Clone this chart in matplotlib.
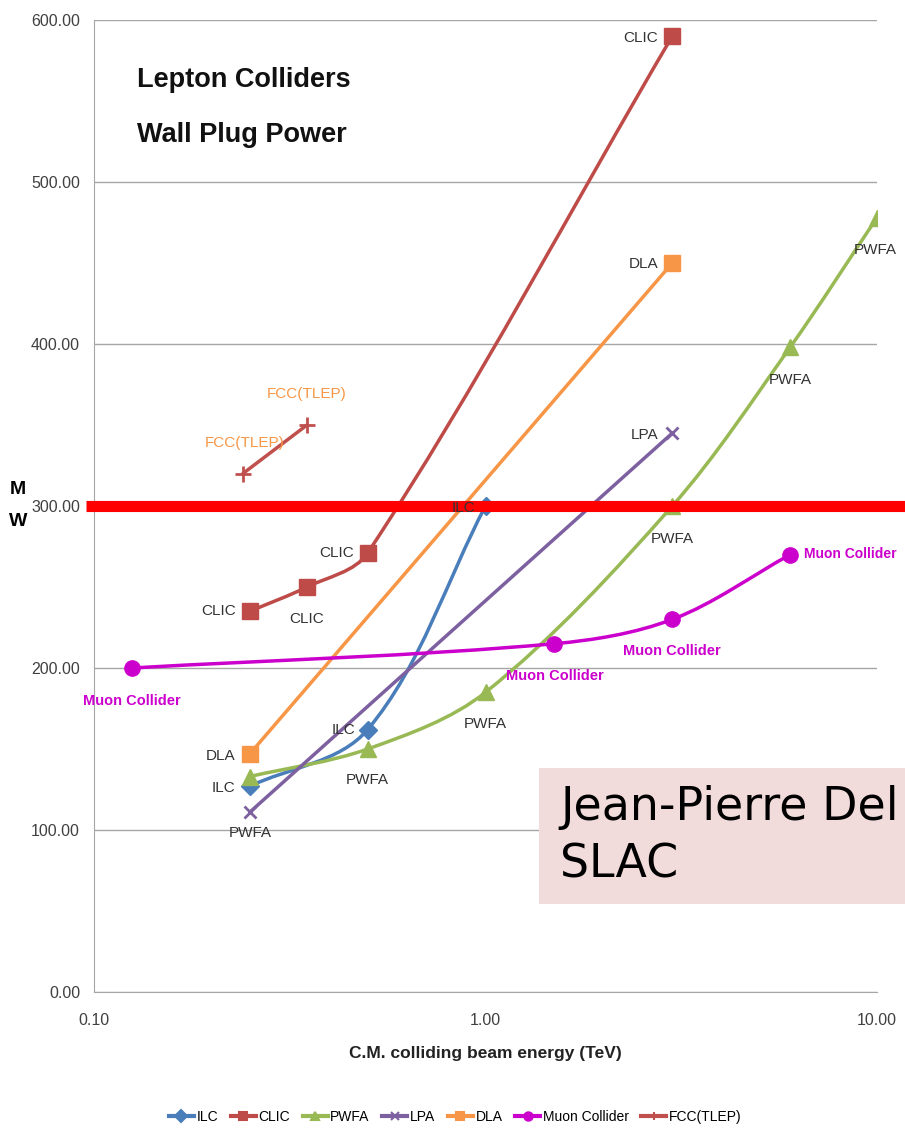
import numpy as np
import matplotlib
matplotlib.use("Agg")
import matplotlib.pyplot as plt
from matplotlib.path import Path
from matplotlib.patches import PathPatch, Rectangle
from matplotlib import font_manager as fm

names = {f.name for f in fm.fontManager.ttflist}
base = 'Liberation Sans Narrow' if 'Liberation Sans Narrow' in names else 'Liberation Sans'
plt.rcParams['font.family'] = [base, 'DejaVu Sans']

# ---- data ----
ilc_x = [0.25, 0.5, 1.0]
ilc_y = [127, 162, 300]
clic_x = [0.25, 0.35, 0.5, 3.0]
clic_y = [235, 250, 271, 590]
pwfa_x = [0.25, 0.5, 1.0, 3.0, 6.0, 10.0]
pwfa_y = [133, 150, 185, 300, 398, 478]
lpa_x = [0.25, 3.0]
lpa_y = [111, 345]
dla_x = [0.25, 3.0]
dla_y = [147, 450]
muon_x = [0.125, 1.5, 3.0, 6.0]
muon_y = [200, 215, 230, 270]
fcc_x = [0.24, 0.35]
fcc_y = [320, 350]

y_ticks = [0, 100, 200, 300, 400, 500, 600]
x_ticks = [0.1, 1.0, 10.0]

C_ILC = '#4a7ebb'
C_CLIC = '#be4b48'
C_PWFA = '#98b954'
C_LPA = '#7d60a0'
C_DLA = '#f79646'
C_MUON = '#cc00cc'
C_FCC = '#c0504d'

fig = plt.figure(figsize=(9.05, 11.39), dpi=100)
ax = fig.add_axes([94/905, 1-992/1139, (877-94)/905, (992-20)/1139])
ax.set_xscale('log')
ax.set_xlim(0.1, 10)
ax.set_ylim(0, 600)

SX, SY = 391.0, 1.62  # approx display scale (px per decade, px per MW)


def smooth(ax, xs, ys, color, lw):
    # Excel-like smoothed line drawn as cubic Bezier segments through the points
    P = np.column_stack([np.log10(np.asarray(xs, float)) * SX, np.asarray(ys, float) * SY])
    n = len(P)
    if n < 3:
        ax.plot(xs, ys, color=color, lw=lw, solid_capstyle='round', zorder=3)
        return
    tang = []
    for i in range(n):
        a = P[max(i-1, 0)]; b = P[min(i+1, n-1)]
        d = b - a
        tang.append(d / np.hypot(*d))
    verts = [(xs[0], ys[0])]
    codes = [Path.MOVETO]
    k = 0.33
    for i in range(n-1):
        L = np.hypot(*(P[i+1] - P[i]))
        c1 = P[i] + tang[i] * L * k
        c2 = P[i+1] - tang[i+1] * L * k
        for c in (c1, c2, P[i+1]):
            verts.append((10**(c[0]/SX), c[1]/SY))
        codes += [Path.CURVE4]*3
    ax.add_patch(PathPatch(Path(verts, codes), fc='none', ec=color, lw=lw,
                           capstyle='round', zorder=3))

series = [
    ('ILC', ilc_x, ilc_y, C_ILC, 'D', 9),
    ('CLIC', clic_x, clic_y, C_CLIC, 's', 11),
    ('PWFA', pwfa_x, pwfa_y, C_PWFA, '^', 11),
    ('LPA', lpa_x, lpa_y, C_LPA, 'x', 9),
    ('DLA', dla_x, dla_y, C_DLA, 's', 11),
    ('Muon Collider', muon_x, muon_y, C_MUON, 'o', 11),
    ('FCC(TLEP)', fcc_x, fcc_y, C_FCC, '+', 11),
]
handles = []
for name, xs, ys, c, m, ms in series:
    smooth(ax, xs, ys, c, 2.5)
    ax.plot(xs, ys, ls='none', marker=m, color=c, ms=ms, mew=2 if m in 'x+' else 1, zorder=4)
    h, = ax.plot([], [], color=c, lw=3, marker=m, ms=6, mew=1.5)
    handles.append(h)

# grid & axes
ax.set_yticks(y_ticks)
ax.yaxis.grid(True, color='#a6a6a6', lw=1)
ax.set_axisbelow(True)
for s in ['top', 'right']:
    ax.spines[s].set_visible(False)
ax.spines['left'].set_color('#a6a6a6')
ax.spines['bottom'].set_color('#a6a6a6')
ax.set_yticklabels(['%.2f' % v for v in y_ticks], fontsize=11.5, color='#404040')
ax.set_xticks(x_ticks)
ax.set_xticklabels(['%.2f' % v for v in x_ticks], fontsize=11.5, color='#404040')
ax.xaxis.set_minor_locator(matplotlib.ticker.NullLocator())
ax.tick_params(axis='y', length=0, pad=10)
ax.tick_params(axis='x', length=0, pad=15)
ax.set_xlabel('C.M. colliding beam energy (TeV)', fontsize=12.5, fontweight='bold',
              labelpad=13, color='#222222')

fig.text(18/905, 1-490/1139, 'M', fontsize=14, fontweight='bold', ha='center', va='center')
fig.text(18/905, 1-522/1139, 'W', fontsize=14, fontweight='bold', ha='center', va='center')

# title
fig.text(137/905, 1-80/1139, 'Lepton Colliders', fontsize=19.5, fontweight='bold',
         va='center', color='#111111')
fig.text(137/905, 1-135/1139, 'Wall Plug Power', fontsize=19.5, fontweight='bold',
         va='center', color='#111111')

# data labels
def lab(x, y, s, dx, dy, ha, color='#333333', bold=False, fs=11):
    ax.annotate(s, (x, y), xytext=(dx, dy), textcoords='offset pixels',
                ha=ha, va='center', fontsize=fs, color=color,
                fontweight='bold' if bold else 'normal', zorder=6)

lab(ilc_x[0], ilc_y[0], 'ILC', -14, -2, 'right')
lab(ilc_x[1], ilc_y[1], 'ILC', -12, 0, 'right')
lab(ilc_x[2], ilc_y[2], 'ILC', -10, -2, 'right')
lab(clic_x[0], clic_y[0], 'CLIC', -14, 0, 'right')
lab(clic_x[1], clic_y[1], 'CLIC', 0, -32, 'center')
lab(clic_x[2], clic_y[2], 'CLIC', -14, 0, 'right')
lab(clic_x[3], clic_y[3], 'CLIC', -14, -2, 'right')
lab(pwfa_x[0], pwfa_y[0], 'PWFA', 0, -56, 'center')
lab(pwfa_x[1], pwfa_y[1], 'PWFA', 0, -31, 'center')
lab(pwfa_x[2], pwfa_y[2], 'PWFA', 0, -32, 'center')
lab(pwfa_x[3], pwfa_y[3], 'PWFA', 0, -33, 'center')
lab(pwfa_x[4], pwfa_y[4], 'PWFA', 0, -33, 'center')
lab(pwfa_x[5], pwfa_y[5], 'PWFA', -2, -32, 'center')
lab(lpa_x[1], lpa_y[1], 'LPA', -14, -2, 'right')
lab(dla_x[0], dla_y[0], 'DLA', -14, -2, 'right')
lab(dla_x[1], dla_y[1], 'DLA', -14, -1, 'right')
lab(muon_x[0], muon_y[0], 'Muon Collider', 0, -33, 'center', C_MUON, True, 10.5)
lab(muon_x[1], muon_y[1], 'Muon Collider', 0, -32, 'center', C_MUON, True, 10.5)
lab(muon_x[2], muon_y[2], 'Muon Collider', 0, -32, 'center', C_MUON, True, 10.5)
lab(muon_x[3], muon_y[3], 'Muon Collider', 14, 1, 'left', C_MUON, True, 10)
lab(fcc_x[0], fcc_y[0], 'FCC(TLEP)', 2, 31, 'center', C_DLA)
lab(fcc_x[1], fcc_y[1], 'FCC(TLEP)', 0, 31, 'center', C_DLA)

# red 300 MW line across the figure
ax.plot([-0.01, 1.05], [300, 300], transform=ax.get_yaxis_transform(),
        color='#ff0000', lw=8, clip_on=False, zorder=5, solid_capstyle='butt')

# author box (runs off the right edge, as in the reference)
fig.patches.append(Rectangle((539/905, 1-904/1139), 0.5, (904-768)/1139,
                             transform=fig.transFigure, fc='#f2dcdb', ec='none', zorder=7))
fig.text(560/905, 1-808/1139, 'Jean-Pierre Del', fontsize=33,
         family=['DejaVu Sans'], va='center', ha='left', zorder=8)
fig.text(560/905, 1-865/1139, 'SLAC', fontsize=33,
         family=['DejaVu Sans'], va='center', ha='left', zorder=8)

fig.legend(handles, [s[0] for s in series], loc='center', bbox_to_anchor=(0.503, 1-1117/1139),
           ncol=7, frameon=False, fontsize=10, handlelength=1.8, columnspacing=0.9,
           handletextpad=0.2)

fig.savefig('out.png', dpi=100)
